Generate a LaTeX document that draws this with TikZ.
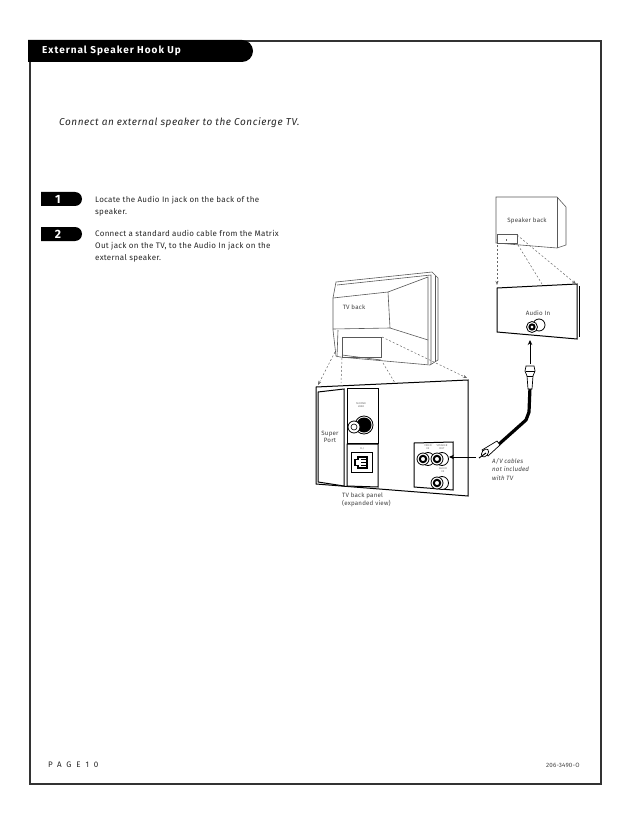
\documentclass[tikz,border=0pt]{standalone}
\usepackage{fontspec}
\setmainfont{Fira Sans}[LetterSpace=3]
\usetikzlibrary{arrows.meta, positioning}
\tikzset{
  outline/.style={draw=black!65, line width=0.6pt, fill=white},
  panel/.style={draw=black, line width=1pt, fill=white},
  leader/.style={draw=black!60, line width=0.5pt, dash pattern=on 2pt off 2pt},
  leaderarrow/.style={leader, -{Stealth[length=4pt,width=3pt]}},
  bodytext/.style={font=\fontsize{8}{12}\selectfont\addfontfeature{LetterSpace=3.5}, color=black!85, align=left, anchor=north west, inner sep=0pt},
  tinytext/.style={font=\fontsize{2.6}{3}\selectfont, color=black!60, align=center, inner sep=0pt},
  labeltext/.style={font=\fontsize{6.2}{7.4}\selectfont, color=black!75, align=center, inner sep=0pt},
  stepflag/.style={fill=black, draw=none},
  stepnum/.style={text=white, inner sep=0pt, font=\bfseries\fontsize{12}{12}\selectfont},
  jackring/.style={draw=black, line width=0.8pt, fill=white},
  sendarrow/.style={draw=black, line width=0.9pt, -{Stealth[length=5pt,width=4.5pt]}},
}
\begin{document}
\begin{tikzpicture}[x=1pt,y=-1pt]
  \useasboundingbox (0,0) rectangle (638,826);
  % page frame
  \draw[black!80, line width=1.6pt] (30,41) rectangle (601,784);
  % title tab
  \fill[black] (28,40) -- (242,40) arc[start angle=-90, end angle=90, radius=11] -- (28,62) -- cycle;
  \node[anchor=west, inner sep=0pt, text=white, font=\bfseries\fontsize{10}{10}\selectfont\addfontfeature{LetterSpace=10}] (title) at (42,51) {External Speaker Hook Up};
  \node[anchor=west, inner sep=0pt, font=\itshape\fontsize{10}{11}\selectfont\addfontfeature{LetterSpace=5.5}, color=black!85] (intro) at (59,123) {Connect an external speaker to the Concierge TV.};
  % steps
  \fill[stepflag] (41,192) -- (75,192) arc[start angle=-90, end angle=90, radius=7] -- (41,206) -- cycle;
  \fill[stepflag] (41,227) -- (75,227) arc[start angle=-90, end angle=90, radius=7] -- (41,241) -- cycle;
  \node[stepnum] (one) at (58,199.5) {1};
  \node[stepnum] (two) at (58,234.5) {2};
  \node[bodytext] (stepa) at (95,196.5) {Locate the Audio In jack on the back of the\\speaker.};
  \node[bodytext] (stepb) at (95,230) {Connect a standard audio cable from the Matrix\\Out jack on the TV, to the Audio In jack on the\\external speaker.};
  % TV back
  \draw[outline] (336,282) -- (432,272) -- (438,278) -- (438,360) -- (430,365) -- (340,357) -- (336,356) -- (333,330) -- (333,298) -- cycle;
  \draw[outline, fill=none] (337,285) -- (431,275) -- (431,364);
  \draw[outline, fill=none] (435,276) -- (435,362);
  \draw[outline, fill=none] (333,298) -- (388,292) -- (428,277) -- (428,364);
  \draw[outline, fill=none] (388,292) -- (390,328) -- (428,340);
  \draw[outline, fill=none] (333,329) -- (390,328);
  \draw[outline, fill=none] (338,330) -- (337,357);
  \draw[outline] (342,337) rectangle (381,357);
  \draw[outline, fill=none] (342,355) -- (381,360);
  \node[labeltext] (tvback) at (354,307) {TV back};
  % TV panel
  \draw[panel] (316,387) -- (468,380) -- (468,496) -- (316,484) -- cycle;
  \draw[panel] (318,392) -- (344,389) -- (344,486) -- (318,482) -- cycle;
  \draw[panel] (347,388) -- (378,388) -- (378,443) -- (347,443) -- cycle;
  \draw[panel] (347,444) -- (378,444) -- (378,487) -- (347,486) -- cycle;
  \draw[panel] (351,452) rectangle (372,472);
  \node[labeltext] (super) at (330,437) {Super\\Port};
  \node[tinytext] (second) at (361,405) {SECOND\\LOAD};
  \node[tinytext] (rjack) at (362,449) {R-J};
  \node[labeltext, anchor=north west, align=left] (panelcap) at (342,493) {TV back panel\\(expanded view)};
  % second load jack
  \draw[jackring] (364,425) circle[radius=9];
  \fill[black] (364,425) circle[radius=7.5];
  \draw[jackring] (354,427) circle[radius=6];
  \draw[black, line width=0.6pt] (354,427) circle[radius=3];
  % phone socket
  \draw[black, line width=1.4pt, fill=white] (358,457) -- (367,457) -- (367,468) -- (358,468) -- (358,465.5) -- (355,465.5) -- (355,459.5) -- (358,459.5) -- cycle;
  \draw[black, line width=0.7pt] (361,459.5) -- (367,459.5) (361,462.5) -- (367,462.5) (361,465.5) -- (367,465.5);
  % AV box
  \draw[panel] (414,443) -- (453,442) -- (453,490) -- (414,487) -- cycle;
  \node[tinytext] (videoin) at (428,447) {VIDEO\\IN};
  \node[tinytext] (speakerout) at (442,447) {SPEAKER\\OUT};
  \node[tinytext] (audioin) at (443,470) {AUDIO\\IN};
  \foreach \jx/\jy/\jname in {423/459/ja, 437/459/jb, 437/483/jc}{
    \draw[jackring] (\jx+5,\jy) circle[radius=6.5];
    \draw[jackring] (\jx,\jy) circle[radius=6];
    \draw[black, line width=2pt] (\jx,\jy) circle[radius=3.2];
    \coordinate (\jname) at (\jx+12,\jy-2);
  }
  % speaker back
  \draw[outline] (496,197) -- (557,197) -- (566,207) -- (566,245) -- (557,248) -- (496,243) -- cycle;
  \draw[outline, fill=none] (557,197) -- (557,248);
  \draw[outline] (497,234) rectangle (517,243);
  \draw[black!60, line width=0.5pt] (506,239) -- (506,241);
  \node[labeltext] (spkback) at (527,221) {Speaker back};
  % speaker panel
  \draw[panel] (497,288) -- (577,284) -- (577,339) -- (497,332) -- cycle;
  \draw[black, line width=1pt] (579,286) -- (579,337);
  \node[labeltext] (audiolabel) at (538,313.5) {Audio In};
  \draw[jackring] (539,325) circle[radius=6];
  \draw[jackring] (532,327) circle[radius=5.5];
  \draw[black, line width=2pt] (532,327) circle[radius=2.6];
  % dashed leaders
  \coordinate (tva) at (335,352);
  \coordinate (tvb) at (342,358);
  \coordinate (tvc) at (383,363);
  \coordinate (tvd) at (382,337);
  \draw[leaderarrow] (tva) -- (318,385);
  \draw[leader] (tvb) -- (341,383);
  \draw[leader] (tvc) -- (395,383);
  \draw[leaderarrow] (tvd) -- (467,378);
  \draw[leaderarrow] (497,245) -- (497,285);
  \draw[leader] (518,245) -- (542,284);
  \draw[leaderarrow] (517,235) -- (576,284);
  % cable
  \draw[black, line width=3.2pt, line join=round] (530,387) -- (529,412) -- (526,420) -- (498,445);
  \draw[jackring, line width=0.7pt] (526,366) -- (534,366) -- (535,371) -- (533,376) -- (532,389) -- (528,389) -- (527,376) -- (525,371) -- cycle;
  \draw[black, line width=0.7pt] (525.5,371) -- (534.5,371) (527,376) -- (533,376);
  \draw[jackring, line width=0.7pt] (482,450) -- (497,441) -- (500,445) -- (488,456) -- cycle;
  \draw[jackring, line width=0.7pt, rotate around={-38:(485,453)}] (485,453) ellipse[x radius=3, y radius=4.5];
  \coordinate (plugb) at (476,457);
  \coordinate (plugt) at (530,364);
  \draw[black, line width=1pt] (479,458) -- (486,453);
  \draw[sendarrow] (plugb) -- (jb);
  \draw[sendarrow] (plugt) -- (530,340);
  \node[labeltext, anchor=north west, align=left, font=\itshape\fontsize{6.2}{8.7}\selectfont] (avnote) at (492,458) {A/V cables\\not included\\with TV};
  % footer
  \node[anchor=west, inner sep=0pt, font=\fontsize{8}{10}\selectfont\addfontfeature{LetterSpace=60}, color=black!85] (pagenum) at (48,765) {PAGE\hspace{5pt}10};
  \node[anchor=west, inner sep=0pt, font=\fontsize{6.2}{6}\selectfont, color=black!75] (partno) at (546,765) {206-3490-O};
\end{tikzpicture}
\end{document}
